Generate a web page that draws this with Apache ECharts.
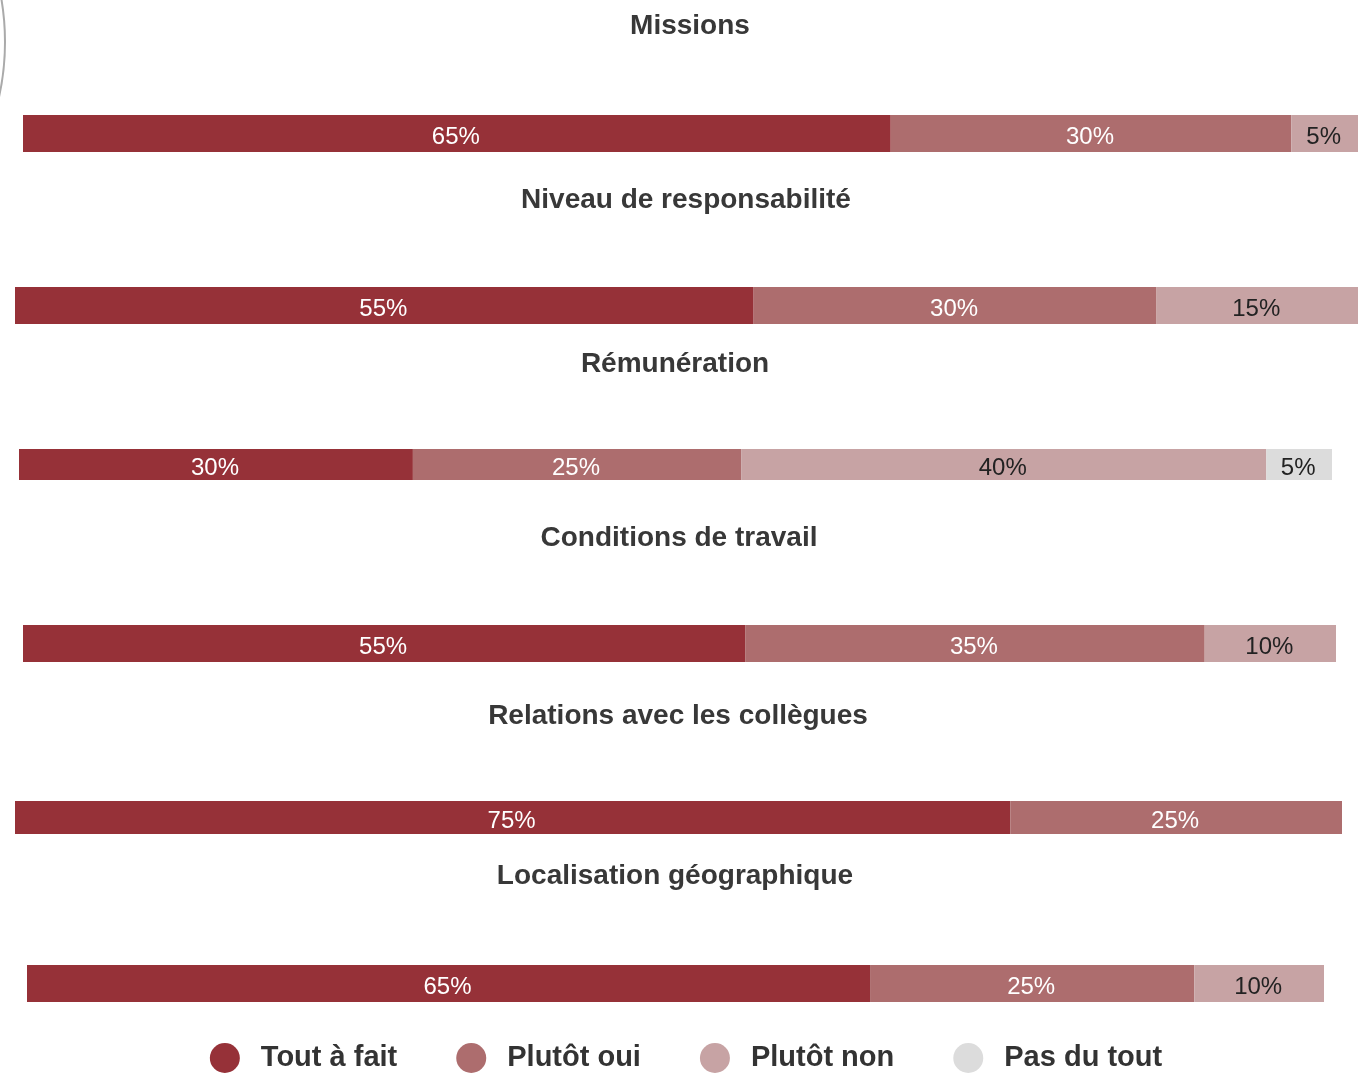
<!DOCTYPE html>
<html lang="fr">
<head>
    <meta charset="UTF-8">
    <title>Satisfaction</title>
    <script src="https://cdn.jsdelivr.net/npm/echarts@6/dist/echarts.min.js"></script>
    <style>
        body { margin: 0; padding: 0; background: #fff; }
        #chart { width: 1372px; height: 1085px; }
    </style>
</head>
<body>
<div id="chart"></div>
<script>
    // Data
    const categories = ['Missions', 'Niveau de responsabilité', 'Rémunération',
        'Conditions de travail', 'Relations avec les collègues', 'Localisation géographique'];
    const levels = ['Tout à fait', 'Plutôt oui', 'Plutôt non', 'Pas du tout'];
    const toutAFait = [65, 55, 30, 55, 75, 65];
    const plutotOui = [30, 30, 25, 35, 25, 25];
    const plutotNon = [5, 15, 40, 10, 0, 10];
    const pasDuTout = [0, 0, 5, 0, 0, 0];
    const values = [toutAFait, plutotOui, plutotNon, pasDuTout];

    // Layout of each block (px)
    const colors = ['#963138', '#ad6d6e', '#c7a3a4', '#dcdcdc'];
    const labelColors = ['#fff', '#fff', '#222', '#222'];
    const blocks = [
        { left: 23, width: 1335, top: 115, height: 37, titleX: 690, titleY: 12 },
        { left: 15, width: 1343, top: 287, height: 37, titleX: 686, titleY: 186 },
        { left: 19, width: 1313, top: 449, height: 31, titleX: 675, titleY: 350 },
        { left: 23, width: 1313, top: 625, height: 37, titleX: 679, titleY: 524 },
        { left: 15, width: 1327, top: 801, height: 33, titleX: 678, titleY: 702 },
        { left: 27, width: 1297, top: 965, height: 37, titleX: 675, titleY: 862 }
    ];
    const font = '"Liberation Sans", Arial, sans-serif';

    const chart = echarts.init(document.getElementById('chart'));

    const titles = [], grids = [], xAxes = [], yAxes = [], series = [];
    categories.forEach(function (cat, i) {
        const b = blocks[i];
        titles.push({
            text: cat,
            left: b.titleX,
            top: b.titleY,
            textAlign: 'center',
            padding: 0,
            textStyle: { fontFamily: font, fontSize: 28, fontWeight: 'bold', color: '#383838' }
        });
        grids.push({ left: b.left, width: b.width, top: b.top, height: b.height });
        xAxes.push({ type: 'value', gridIndex: i, min: 0, max: 100, show: false });
        yAxes.push({ type: 'category', gridIndex: i, data: [cat], show: false });
        levels.forEach(function (lv, j) {
            series.push({
                type: 'bar',
                name: lv,
                stack: 'bar' + i,
                xAxisIndex: i,
                yAxisIndex: i,
                barWidth: '100%',
                data: [values[j][i]],
                itemStyle: { color: colors[j] },
                label: {
                    show: true,
                    position: 'inside',
                    offset: [-1, 4],
                    color: labelColors[j],
                    fontFamily: font,
                    fontSize: 24,
                    formatter: function (p) { return p.value ? p.value + '%' : ''; }
                },
                emphasis: { disabled: true }
            });
        });
    });

    chart.setOption({
        animation: false,
        title: titles,
        grid: grids,
        xAxis: xAxes,
        yAxis: yAxes,
        legend: {
            data: levels,
            top: 1038,
            left: 'center',
            icon: 'circle',
            itemWidth: 30,
            itemHeight: 30,
            itemGap: 59,
            textStyle: { fontFamily: font, fontSize: 29, fontWeight: 'bold', color: '#333', padding: [0, 0, 0, 16] }
        },
        graphic: [{
            type: 'ellipse',
            shape: { cx: -200, cy: 42, rx: 205, ry: 228 },
            style: { fill: 'none', stroke: '#aaa', lineWidth: 2 }
        }],
        series: series
    });
</script>
</body>
</html>
